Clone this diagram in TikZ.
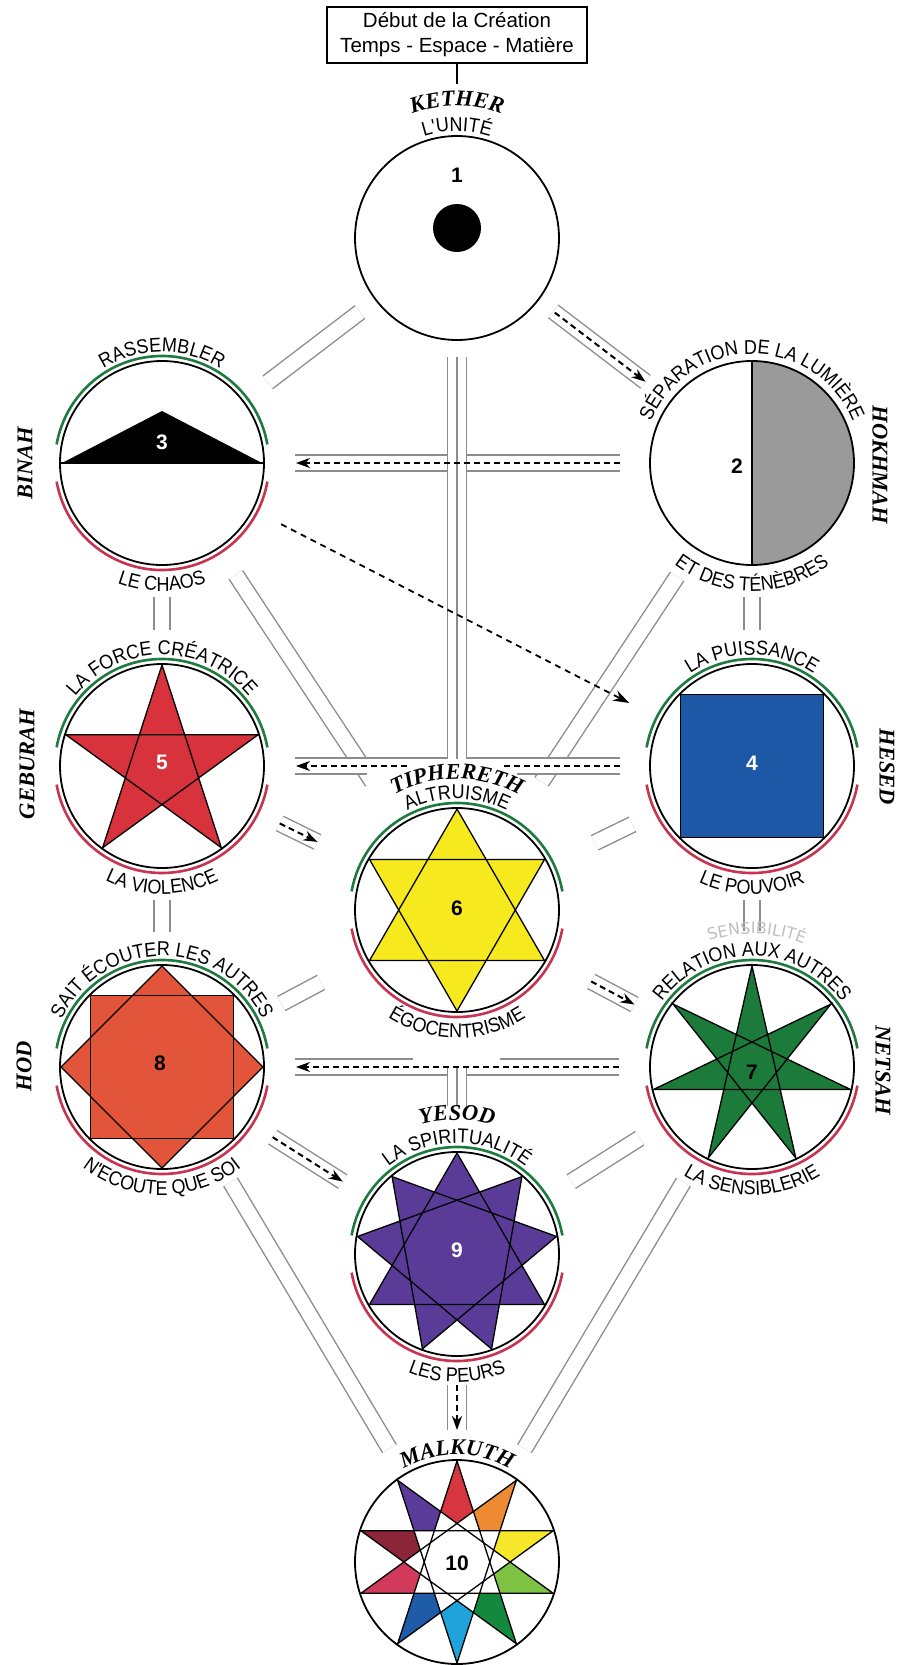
\documentclass[tikz,border=0pt]{standalone}
\usepackage{fontspec}
\setmainfont{Liberation Serif}
\setsansfont{Liberation Sans}
\newfontfamily\handfont{DejaVu Sans}
\newfontfamily\arcfam[FakeStretch=0.9]{Liberation Sans}
\usetikzlibrary{calc,arrows.meta,decorations.text}
\definecolor{arcgreen}{HTML}{1F7A3F}
\definecolor{arcred}{HTML}{C8334F}
\definecolor{linegray}{HTML}{8C8C8C}
\definecolor{hgray}{HTML}{9A9A9A}
\definecolor{cfive}{HTML}{D8323C}
\definecolor{cfour}{HTML}{1D58A6}
\definecolor{csix}{HTML}{F6EA1E}
\definecolor{cseven}{HTML}{1C7A3A}
\definecolor{ceight}{HTML}{E3553B}
\definecolor{cnine}{HTML}{5A3C98}
\definecolor{mza}{HTML}{D7353F}
\definecolor{mzb}{HTML}{EE8A32}
\definecolor{mzc}{HTML}{F6E72A}
\definecolor{mzd}{HTML}{7DC243}
\definecolor{mze}{HTML}{14893D}
\definecolor{mzf}{HTML}{1FA3DA}
\definecolor{mzg}{HTML}{1E5BA9}
\definecolor{mzh}{HTML}{D23A5C}
\definecolor{mzi}{HTML}{8C2538}
\definecolor{mzj}{HTML}{5B3C9A}
\newcommand{\labfont}{\arcfam\fontsize{20}{20}\selectfont}
\newcommand{\namefont}{\rmfamily\bfseries\itshape\fontsize{22.5}{22.5}\selectfont}
\newcommand{\curvtext}[5]{\path[decorate,decoration={text along path,text align=center,text={#5}}] ($(#1)+(#3:#2)$) arc[start angle=#3,end angle=#4,radius=#2];}
\newcommand{\toplab}[2]{\curvtext{#1}{111}{200}{-20}{|\labfont|#2}}
\newcommand{\botlab}[2]{\curvtext{#1}{128}{160}{380}{|\labfont|#2}}
\begin{document}
\begin{tikzpicture}[x=1pt,y=1pt,
  sef/.style={circle, fill=white, minimum size=204pt, inner sep=0pt},
  box/.style={draw, line width=1.3pt, minimum width=260pt, minimum height=56pt, align=center, inner sep=0pt, font=\sffamily\fontsize{20.5}{25}\selectfont},
  dbl/.style={draw=linegray, line width=1.4pt, double=white, double distance=14.5pt},
  trpl/.style={draw=linegray, line width=1.4pt, double=white, double distance=18pt},
  mid/.style={draw=linegray, line width=1.4pt},
  flow/.style={draw=black, line width=2pt, dash pattern=on 6pt off 4pt, -{Stealth[length=14pt,width=10pt]}},
  flowline/.style={draw=black, line width=2pt, dash pattern=on 6pt off 4pt},
  thinflow/.style={draw=black, line width=1.8pt, dash pattern=on 6pt off 5pt, -{Stealth[length=16pt,width=11pt]}},
  star/.style={draw=black, line width=1.3pt, line join=miter},
  garc/.style={draw=arcgreen, line width=2.6pt},
  rarc/.style={draw=arcred, line width=2.6pt},
  num/.style={font=\sffamily\bfseries\fontsize{21}{21}\selectfont, inner sep=0pt},
  side/.style={font=\namefont, inner sep=0pt}]
\useasboundingbox (0,0) rectangle (905,-1665);
\fill[white] (0,0) rectangle (905,-1665);

% ---------- top box ----------
\node[box] (top) at (457,-35) {Début de la Création\\Temps - Espace - Matière};
\coordinate (kt) at (457,-84);
\draw[line width=1.3pt] (top.south) -- (kt);

% ---------- circles (fill) ----------
\node[sef] (K)  at (457,-238) {};
\node[sef] (B)  at (162,-463) {};
\node[sef] (H)  at (752,-463) {};
\node[sef] (G)  at (162,-766) {};
\node[sef] (He) at (752,-766) {};
\node[sef] (T)  at (457,-910) {};
\node[sef] (Hd) at (162,-1067) {};
\node[sef] (N)  at (752,-1067) {};
\node[sef] (Y)  at (457,-1254) {};
\node[sef] (M)  at (457,-1562) {};

% ---------- connectors: plain doubles ----------
\draw[dbl] ($(K)!122pt!(B)$) -- ($(B)!133pt!(K)$);
\draw[dbl] ($(B)!134pt!(T)$) -- ($(B)!382pt!(T)$);
\draw[dbl] ($(H)!136pt!(T)$) -- ($(H)!382pt!(T)$);
\draw[dbl] ($(B)!134pt!(G)$) -- ($(G)!136pt!(B)$);
\draw[dbl] ($(H)!134pt!(He)$) -- ($(He)!136pt!(H)$);
\draw[dbl] ($(He)!133pt!(T)$) -- ($(He)!175pt!(T)$);
\draw[dbl] ($(G)!134pt!(Hd)$) -- ($(Hd)!135pt!(G)$);
\draw[dbl] ($(He)!134pt!(N)$) -- ($(N)!136pt!(He)$);
\draw[dbl] ($(T)!154pt!(Hd)$) -- ($(T)!199pt!(Hd)$);
\draw[dbl] ($(N)!133pt!(Y)$) -- ($(N)!214pt!(Y)$);
\draw[dbl] ($(Hd)!134pt!(M)$) -- ($(M)!132pt!(Hd)$);
\draw[dbl] ($(N)!134pt!(M)$) -- ($(M)!132pt!(N)$);

% ---------- connectors: doubles carrying arrows ----------
\draw[dbl] ($(K)!121pt!(H)$) -- ($(H)!134pt!(K)$);
\draw[dbl] ($(H)!132pt!(B)$) -- ($(B)!133pt!(H)$);
\draw[dbl] ($(He)!132pt!(G)$) -- ($(G)!133pt!(He)$);
\draw[dbl] ($(N)!133pt!(Hd)$) -- ($(Hd)!133pt!(N)$);
\draw[dbl] ($(G)!131pt!(T)$) -- ($(G)!173pt!(T)$);
\draw[dbl] ($(T)!152pt!(N)$) -- ($(T)!201pt!(N)$);
\draw[dbl] ($(Hd)!131pt!(Y)$) -- ($(Hd)!214pt!(Y)$);
\draw[trpl] ($(Y)!131pt!(M)$) -- ($(M)!132pt!(Y)$);

% ---------- triple verticals ----------
\draw[trpl] ($(K)!119pt!(T)$) -- ($(T)!151pt!(K)$);
\draw[mid]  ($(K)!119pt!(T)$) -- ($(T)!151pt!(K)$);
\draw[trpl] ($(T)!157pt!(Y)$) -- ($(Y)!148pt!(T)$);
\draw[mid]  ($(T)!157pt!(Y)$) -- ($(Y)!148pt!(T)$);

% ---------- gaps left for labels ----------
\fill[white] (407,-763) -- (503,-763) -- (503,-771.5) -- (517,-771.5) -- (517,-800) -- (367,-800) -- (367,-771.5) -- (407,-771.5) -- cycle;
\fill[white] (413,-1055.5) rectangle (500,-1062);

% ---------- dashed flows ----------
\draw[flow] ($(K)!123pt!(H)$) -- ($(H)!134pt!(K)$);
\draw[flow] ($(H)!132pt!(B)$) -- ($(B)!134pt!(H)$);
\draw[flowline] ($(He)!132pt!(G)$) -- ($(He)!249pt!(G)$);
\draw[flow] ($(He)!345pt!(G)$) -- ($(G)!134pt!(He)$);
\draw[flow] ($(N)!133pt!(Hd)$) -- ($(Hd)!134pt!(N)$);
\draw[flow] ($(G)!131pt!(T)$) -- ($(G)!173pt!(T)$);
\draw[flow] ($(T)!152pt!(N)$) -- ($(T)!201pt!(N)$);
\draw[flow] ($(Hd)!131pt!(Y)$) -- ($(Hd)!214pt!(Y)$);
\draw[flow] ($(Y)!131pt!(M)$) -- ($(M)!132pt!(Y)$);
\draw[thinflow] ($(B)!134pt!(He)$) -- ($(He)!138pt!(B)$);

% ---------- 1 Kether ----------
\fill[black] ($(K)+(0,10)$) circle[radius=24];
% ---------- 2 Hokhmah ----------
\fill[hgray] ($(H)+(0,102)$) arc[start angle=90,end angle=-90,radius=102] -- cycle;
\draw[line width=1.4pt] ($(H)+(0,102)$) -- ($(H)+(0,-102)$);
% ---------- 3 Binah ----------
\fill[black] ($(B)+(-100,0)$) -- ($(B)+(0,52)$) -- ($(B)+(100,0)$) -- cycle;
\draw[line width=1.4pt] ($(B)+(-102,0)$) -- ($(B)+(102,0)$);
% ---------- 4 Hesed ----------
\begin{scope}[shift={(He)}]
\filldraw[star, fill=cfour] (45:101) -- (135:101) -- (225:101) -- (315:101) -- cycle;
\end{scope}
% ---------- 5 Geburah ----------
\begin{scope}[shift={(G)}]
\filldraw[star, fill=cfive] (90:101) -- (234:101) -- (378:101) -- (522:101) -- (666:101) -- cycle;
\end{scope}
% ---------- 6 Tiphereth ----------
\begin{scope}[shift={(T)}]
\fill[csix] (90:101) -- (210:101) -- (330:101) -- cycle;
\fill[csix] (270:101) -- (30:101) -- (150:101) -- cycle;
\draw[star] (90:101) -- (210:101) -- (330:101) -- cycle;
\draw[star] (270:101) -- (30:101) -- (150:101) -- cycle;
\end{scope}
% ---------- 7 Netsah ----------
\begin{scope}[shift={(N)}]
\filldraw[star, fill=cseven] (90:101) \foreach \i in {1,...,6} { -- (90+\i*154.2857:101) } -- cycle;
\end{scope}
% ---------- 8 Hod ----------
\begin{scope}[shift={(Hd)}]
\fill[ceight] (45:101) -- (135:101) -- (225:101) -- (315:101) -- cycle;
\fill[ceight] (0:101) -- (90:101) -- (180:101) -- (270:101) -- cycle;
\draw[star] (45:101) -- (135:101) -- (225:101) -- (315:101) -- cycle;
\draw[star] (0:101) -- (90:101) -- (180:101) -- (270:101) -- cycle;
\end{scope}
% ---------- 9 Yesod ----------
\begin{scope}[shift={(Y)}]
\foreach \r in {0,40,80} { \fill[cnine] (90+\r:101) -- (210+\r:101) -- (330+\r:101) -- cycle; }
\foreach \r in {0,40,80} { \draw[star] (90+\r:101) -- (210+\r:101) -- (330+\r:101) -- cycle; }
\end{scope}
% ---------- 10 Malkuth ----------
\begin{scope}[shift={(M)}]
\foreach \k/\col in {0/mza,1/mzb,2/mzc,3/mzd,4/mze,5/mzf,6/mzg,7/mzh,8/mzi,9/mzj} {
  \fill[fill=\col] (90-36*\k:101) -- (72-36*\k:53.1) -- (90-36*\k:38.6) -- (108-36*\k:53.1) -- cycle;
}
\draw[star] (90:101) -- (-54:101) -- (-198:101) -- (-342:101) -- (-486:101) -- cycle;
\draw[star] (54:101) -- (-90:101) -- (-234:101) -- (-378:101) -- (-522:101) -- cycle;
\end{scope}

% ---------- outlines and arcs ----------
\foreach \n in {K,H,B,He,G,T,N,Hd,Y,M} { \draw[line width=1.8pt] (\n) circle[radius=102]; }
\foreach \n in {B,G,He,T,Hd,N,Y} {
  \draw[garc] ($(\n)+(10:107)$) arc[start angle=10,end angle=170,radius=107];
  \draw[rarc] ($(\n)+(190:107)$) arc[start angle=190,end angle=350,radius=107];
}

% ---------- numbers ----------
\node[num] (n1) at ($(K)+(0,63)$) {1};
\node[num] (n2) at ($(H)+(-15,-3)$) {2};
\node[num, text=white] (n3) at ($(B)+(0,21)$) {3};
\node[num, text=white] (n4) at ($(He)+(0,3)$) {4};
\node[num, text=white] (n5) at ($(G)+(0,4)$) {5};
\node[num] (n6) at ($(T)+(0,2)$) {6};
\node[num] (n7) at ($(N)+(0,-5)$) {7};
\node[num] (n8) at ($(Hd)+(-2,4)$) {8};
\node[num, text=white] (n9) at ($(Y)+(0,4)$) {9};
\node[num] (n10) at ($(M)+(0,-1)$) {10};

% ---------- side names ----------
\node[side, rotate=90]  (lB)  at (25,-463)  {BINAH};
\node[side, rotate=-90] (lH)  at (880,-465) {HOKHMAH};
\node[side, rotate=90]  (lG)  at (27,-764)  {GEBURAH};
\node[side, rotate=-90] (lHe) at (887,-767) {HESED};
\node[side, rotate=90]  (lHd) at (24,-1066) {HOD};
\node[side, rotate=-90] (lN)  at (883,-1070) {NETSAH};

% ---------- curved labels ----------
\curvtext{K}{132}{200}{-20}{|\namefont|KETHER}
\curvtext{K}{107}{200}{-20}{|\labfont|L'UNITÉ}
\toplab{B}{RASSEMBLER}
\botlab{B}{LE CHAOS}
\curvtext{H}{109}{200}{-20}{|\labfont|SÉPARATION DE LA LUMIÈRE}
\botlab{H}{ET DES TÉNÈBRES}
\toplab{G}{LA FORCE CRÉATRICE}
\botlab{G}{LA VIOLENCE}
\toplab{He}{LA PUISSANCE}
\botlab{He}{LE POUVOIR}
\curvtext{T}{131}{200}{-20}{|\namefont|TIPHERETH}
\toplab{T}{ALTRUISME}
\botlab{T}{ÉGOCENTRISME}
\toplab{Hd}{SAIT ÉCOUTER LES AUTRES}
\botlab{Hd}{N'ECOUTE QUE SOI}
\curvtext{N}{133}{198}{-22}{|\handfont\fontsize{16}{16}\selectfont\color{gray!50}|SENSIBILITÉ}
\toplab{N}{RELATION AUX AUTRES}
\botlab{N}{LA SENSIBLERIE}
\curvtext{Y}{134}{200}{-20}{|\namefont|YESOD}
\toplab{Y}{LA SPIRITUALITÉ}
\botlab{Y}{LES PEURS}
\curvtext{M}{107}{200}{-20}{|\namefont|MALKUTH}
\end{tikzpicture}
\end{document}
